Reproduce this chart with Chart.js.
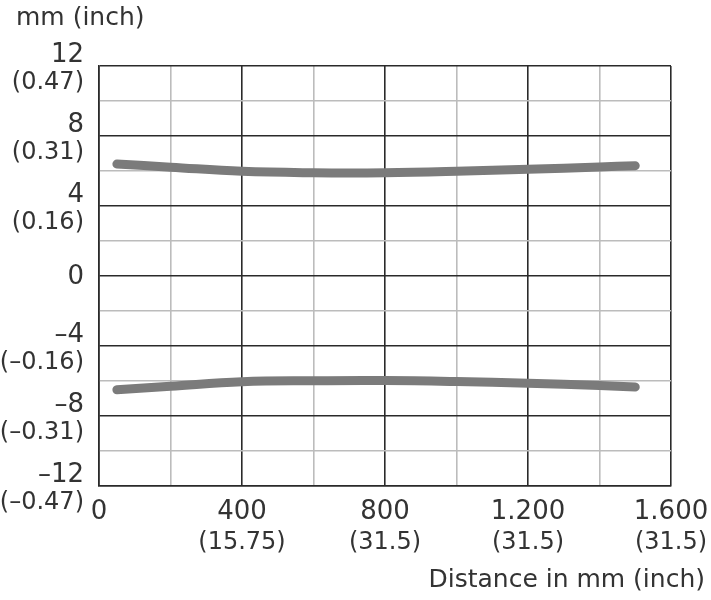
<!DOCTYPE html>
<html>
<head>
<meta charset="utf-8">
<script src="https://cdn.jsdelivr.net/npm/chart.js@4/dist/chart.umd.min.js"></script>
<style>
  html, body { margin: 0; padding: 0; background: #ffffff; }
  #wrap { width: 711px; height: 600px; position: relative; }
</style>
</head>
<body>
<div id="wrap"><canvas id="c" width="711" height="600"></canvas></div>
<script>
// ---- data ----
const distances = [50, 200, 400, 600, 800, 1000, 1200, 1400, 1500];
const upperLimit = [6.4, 6.22, 5.98, 5.9, 5.9, 5.98, 6.1, 6.23, 6.3];
const lowerLimit = [-6.5, -6.3, -6.04, -5.98, -5.97, -6.03, -6.13, -6.26, -6.34];

const xTickValues = [0, 400, 800, 1200, 1600];
const xTickLabels = ['0', '400', '800', '1.200', '1.600'];
const xTickInch = ['', '(15.75)', '(31.5)', '(31.5)', '(31.5)'];

const yTickValues = [12, 8, 4, 0, -4, -8, -12];
const yTickLabels = ['12', '8', '4', '0', '\u20134', '\u20138', '\u201312'];
const yTickInch = ['(0.47)', '(0.31)', '(0.16)', '', '(\u20130.16)', '(\u20130.31)', '(\u20130.47)'];

const yUnitTitle = 'mm (inch)';
const xAxisTitle = 'Distance in mm (inch)';

// ---- styling ----
const TEXT = '#333333';
const DARK = '#2a2a2a';
const LIGHT = '#bcbcbc';
const LINE = '#7b7b7b';
const FONT = '"DejaVu Sans", sans-serif';

const labelPlugin = {
  id: 'labels',
  afterDraw(chart) {
    const ctx = chart.ctx;
    const xs = chart.scales.x, ys = chart.scales.y;
    ctx.save();
    ctx.fillStyle = TEXT;
    ctx.textBaseline = 'middle';
    // y labels
    ctx.textAlign = 'right';
    yTickValues.forEach((v, i) => {
      const py = ys.getPixelForValue(v);
      ctx.font = '26px ' + FONT;
      if (yTickInch[i]) {
        ctx.fillText(yTickLabels[i], 84, py - 11);
        ctx.font = '24px ' + FONT;
        ctx.fillText(yTickInch[i], 84, py + 17);
      } else {
        ctx.fillText(yTickLabels[i], 84, py + 1);
      }
    });
    // x labels
    ctx.textAlign = 'center';
    xTickValues.forEach((v, i) => {
      const px = xs.getPixelForValue(v);
      ctx.font = '26px ' + FONT;
      ctx.fillText(xTickLabels[i], px, chart.chartArea.bottom + 26);
      if (xTickInch[i]) {
        ctx.font = '24px ' + FONT;
        ctx.fillText(xTickInch[i], px, chart.chartArea.bottom + 57);
      }
    });
    // titles
    ctx.font = '25px ' + FONT;
    ctx.textAlign = 'left';
    ctx.fillText(yUnitTitle, 16, 18);
    ctx.textAlign = 'right';
    ctx.fillText(xAxisTitle, 705, 580);
    ctx.restore();
  }
};

new Chart(document.getElementById('c'), {
  type: 'line',
  data: {
    datasets: [
      { data: distances.map((d, i) => ({ x: d, y: upperLimit[i] })) },
      { data: distances.map((d, i) => ({ x: d, y: lowerLimit[i] })) }
    ]
  },
  options: {
    responsive: false,
    animation: false,
    devicePixelRatio: 1,
    layout: { padding: { left: 99, right: 40, top: 66, bottom: 114 } },
    plugins: { legend: { display: false }, tooltip: { enabled: false } },
    elements: {
      line: { borderColor: LINE, borderWidth: 9, borderCapStyle: 'round', borderJoinStyle: 'round', tension: 0.4, fill: false },
      point: { radius: 0 }
    },
    scales: {
      x: {
        type: 'linear', min: 0, max: 1600,
        ticks: { display: false, stepSize: 200 },
        grid: {
          drawTicks: false, tickLength: 0,
          color: c => (c.tick && c.tick.value % 400 === 0) ? DARK : LIGHT,
          lineWidth: 1.6
        },
        border: { display: true, color: DARK, width: 1.6 }
      },
      y: {
        type: 'linear', min: -12, max: 12,
        ticks: { display: false, stepSize: 2 },
        grid: {
          drawTicks: false, tickLength: 0,
          color: c => (c.tick && c.tick.value % 4 === 0) ? DARK : LIGHT,
          lineWidth: 1.6
        },
        border: { display: true, color: DARK, width: 1.6 }
      }
    }
  },
  plugins: [labelPlugin]
});
</script>
</body>
</html>
